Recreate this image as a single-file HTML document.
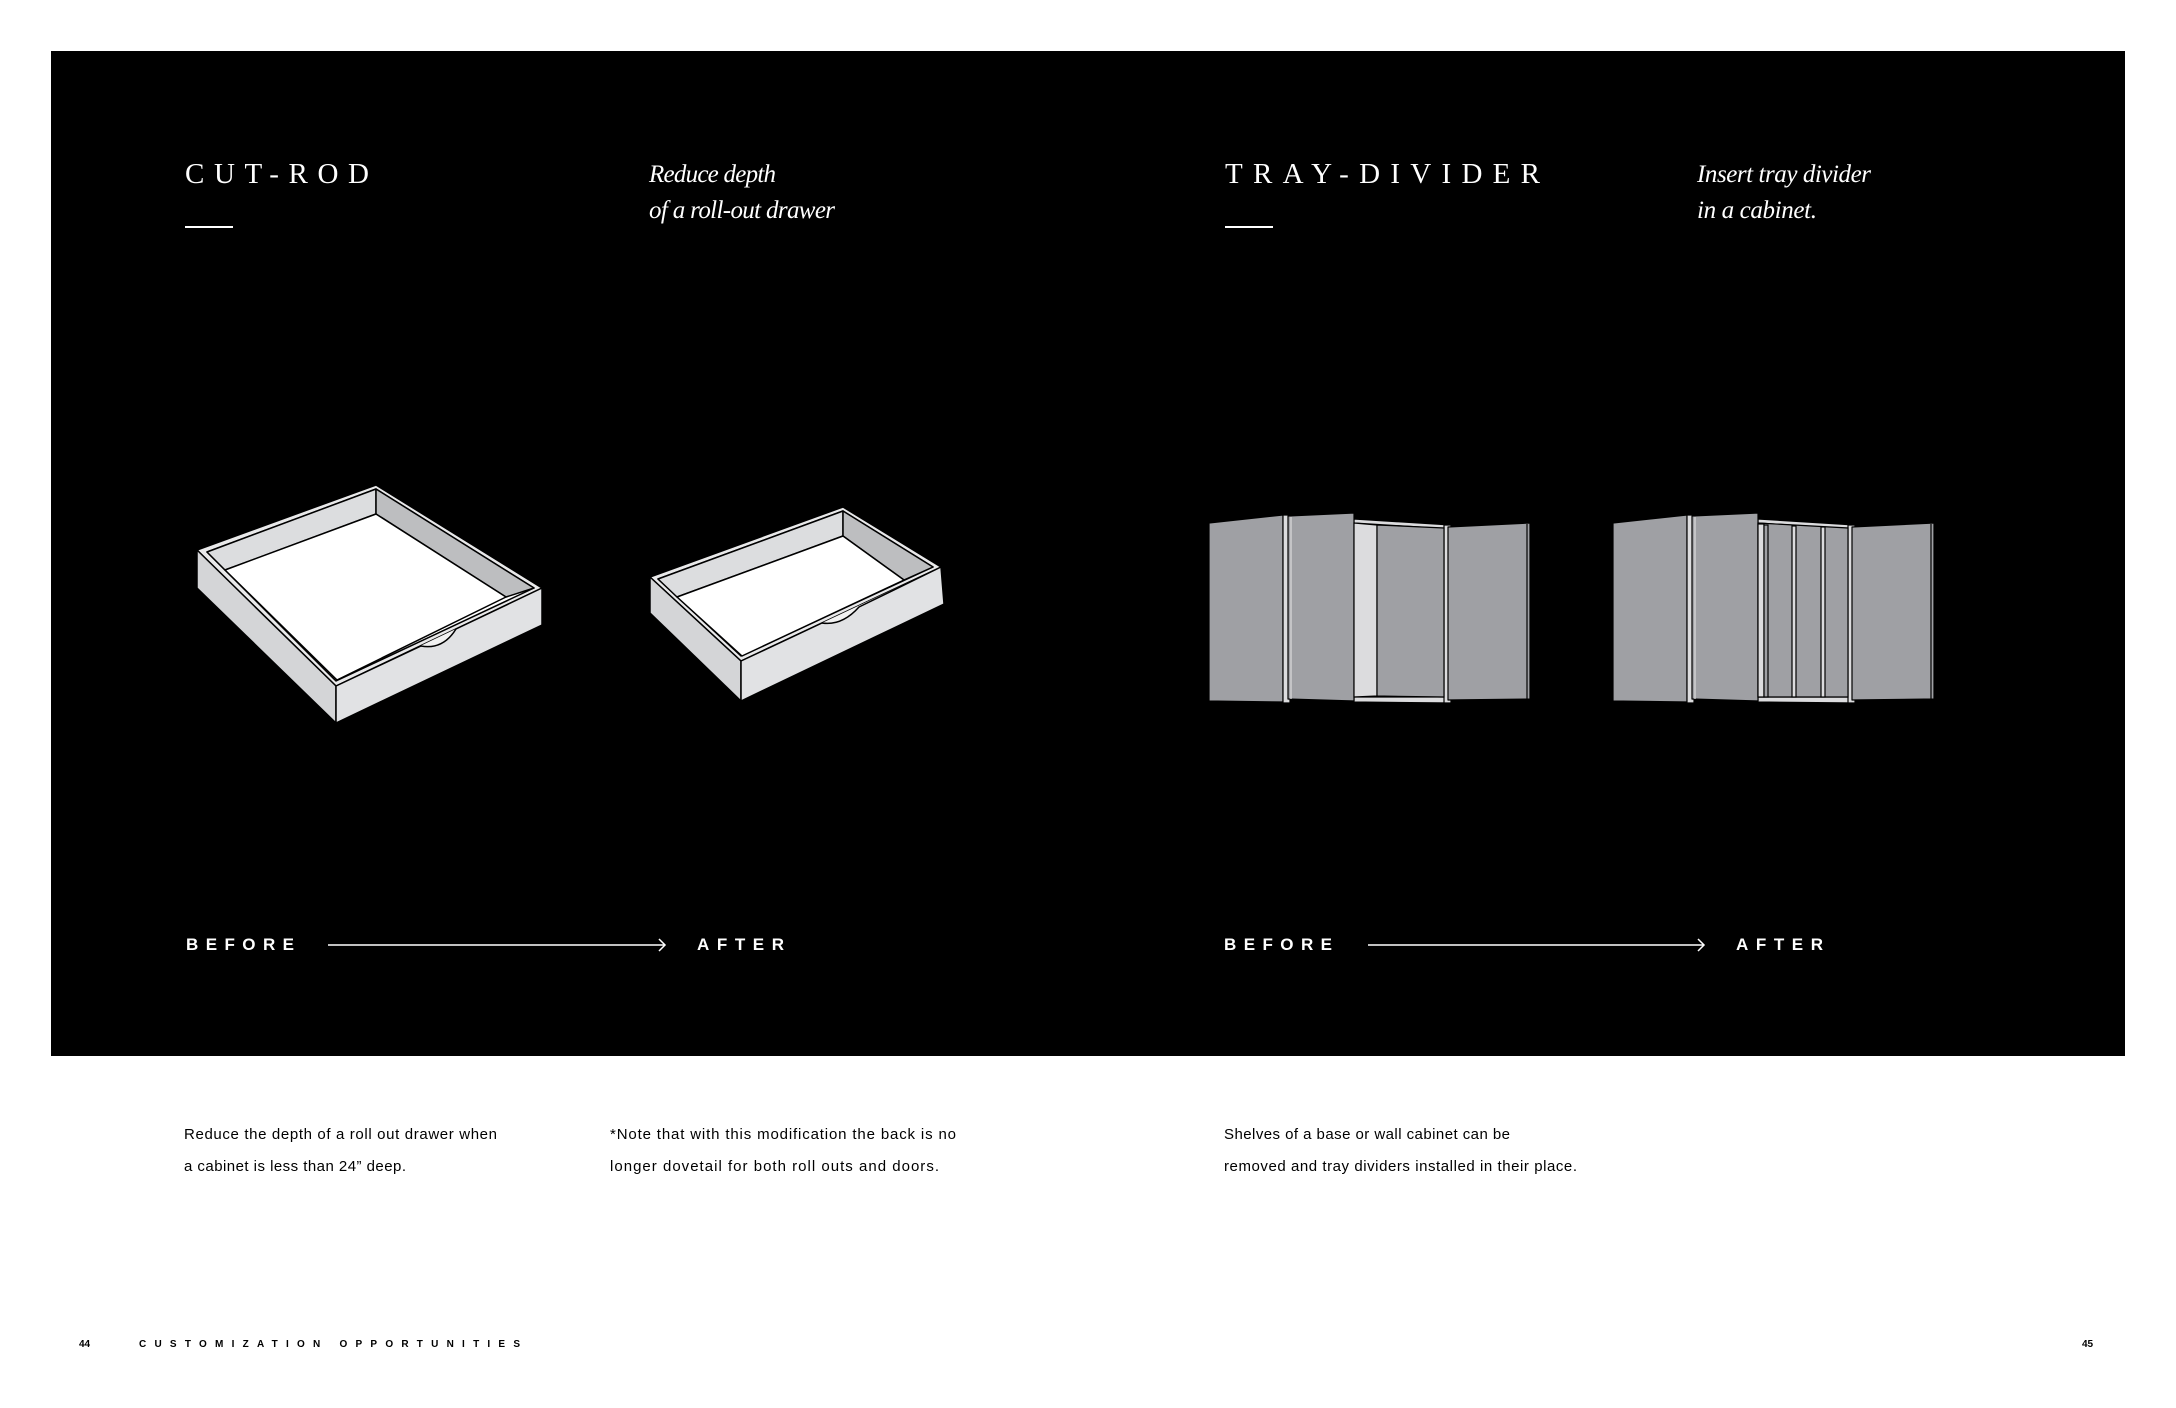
<!DOCTYPE html>
<html><head><meta charset="utf-8"><style>
html,body{margin:0;padding:0;background:#fff;}
svg{display:block;}
.t{font-family:"Liberation Serif",serif;fill:#fff;font-size:29px;}
.i{font-family:"Liberation Serif",serif;font-style:italic;fill:#fff;font-size:25px;}
.s{font-family:"Liberation Sans",sans-serif;fill:#fff;font-size:17px;font-weight:bold;}
.b{font-family:"Liberation Sans",sans-serif;fill:#000;font-size:15px;}
.f{font-family:"Liberation Sans",sans-serif;fill:#000;font-size:10px;font-weight:bold;}
</style></head><body>
<svg width="2176" height="1408" viewBox="0 0 2176 1408" xmlns="http://www.w3.org/2000/svg">
<rect x="51" y="51" width="2074" height="1005" fill="#000"/>

<text class="t" x="185" y="183" textLength="184">CUT-ROD</text>
<rect x="185" y="226" width="48" height="2" fill="#fff"/>
<text class="i" x="649" y="182" textLength="127">Reduce depth</text>
<text class="i" x="649" y="218" textLength="186">of a roll-out drawer</text>

<text class="t" x="1225" y="183" textLength="315">TRAY-DIVIDER</text>
<rect x="1225" y="226" width="48" height="2" fill="#fff"/>
<text class="i" x="1697" y="182" textLength="174">Insert tray divider</text>
<text class="i" x="1697" y="218" textLength="120">in a cabinet.</text>

<text class="s" x="186" y="950" textLength="108">BEFORE</text>
<line x1="328" y1="945" x2="665" y2="945" stroke="#fff" stroke-width="1.5"/>
<polyline points="659,939 665,945 659,951" fill="none" stroke="#fff" stroke-width="1.5"/>
<text class="s" x="697" y="950" textLength="87">AFTER</text>

<text class="s" x="1224" y="950" textLength="108">BEFORE</text>
<line x1="1368" y1="945" x2="1704" y2="945" stroke="#fff" stroke-width="1.5"/>
<polyline points="1698,939 1704,945 1698,951" fill="none" stroke="#fff" stroke-width="1.5"/>
<text class="s" x="1736" y="950" textLength="87">AFTER</text>

<!-- Drawer 1 -->
<g stroke="#000" stroke-width="1.5" stroke-linejoin="round">
<polygon points="197,550 376,485 542,588 336,686" fill="#e9e9ea"/>
<polygon points="207,552 376,489 534,588 336,681" fill="#fff"/>
<polygon points="207,552 376,489 376,514 225,570" fill="#dcdddf"/>
<polygon points="376,489 534,588 506,597 376,514" fill="#bdbec0"/>
<polygon points="225,570 376,514 506,597 337,680" fill="#fff"/>
<polygon points="336,686 542,588 542,602 336,700" fill="#f2f2f2" stroke="none"/>
<polygon points="197,550 336,686 336,723 197,588" fill="#d4d5d7"/>
<path d="M336,686 L421,646 Q443,650 456,629 L542,588 L542,625 L336,723 Z" fill="#e1e2e4"/>
</g>
<!-- Drawer 2 -->
<g stroke="#000" stroke-width="1.5" stroke-linejoin="round">
<polygon points="650,577 843,507 941,567 741,661" fill="#e9e9ea"/>
<polygon points="658,579 843,511 933,567 741,656" fill="#fff"/>
<polygon points="658,579 843,511 843,536 677,597" fill="#dcdddf"/>
<polygon points="843,511 933,567 904,580 843,536" fill="#bdbec0"/>
<polygon points="677,597 843,536 904,580 742,656" fill="#fff"/>
<polygon points="741,661 941,567 941,580 741,674" fill="#f2f2f2" stroke="none"/>
<polygon points="650,577 741,661 741,701 650,613" fill="#d4d5d7"/>
<path d="M741,661 L822,623 Q842,626 859,607 L941,567 L944,604 L741,701 Z" fill="#e1e2e4"/>
</g>

<!-- Cabinet 1 -->
<g id="cab" stroke="#000" stroke-width="1.2" stroke-linejoin="round">
<polygon points="1209,523 1283,515 1283,702 1209,701" fill="#9fa0a4"/>
<rect x="1283" y="515" width="7" height="188" fill="#dcdcde"/>
<polygon points="1354,519 1451,525 1451,529 1354,523" fill="#dcdcde"/>
<polygon points="1354,697 1451,697 1451,703 1354,702" fill="#dcdcde"/>
<rect x="1444" y="525" width="7" height="178" fill="#dcdcde"/>
<polygon points="1288,516 1354,513 1354,701 1288,699" fill="#9fa0a4"/>
<line x1="1291" y1="517" x2="1291" y2="699" stroke="#ddd"/>
<polygon points="1448,527 1530,523 1530,699 1448,700" fill="#9fa0a4"/>
<line x1="1527" y1="524" x2="1527" y2="699"/>
</g>
<g stroke="#000" stroke-width="1.2">
<polygon points="1354,523 1377,525 1377,696 1354,697" fill="#dcdcde"/>
<polygon points="1377,525 1444,528 1444,697 1377,696" fill="#9fa0a4"/>
</g>

<!-- Cabinet 2 -->
<use href="#cab" transform="translate(404,0)"/>
<g stroke="#000" stroke-width="1.2">
<polygon points="1758,523 1848,528 1848,697 1758,697" fill="#9fa0a4"/>
<rect x="1758" y="524" width="6" height="173" fill="#dcdcde"/>
<rect x="1764" y="525" width="4" height="172" fill="#9fa0a4"/>
<rect x="1792" y="526" width="4" height="171" fill="#dcdcde"/>
<rect x="1821" y="527" width="4" height="170" fill="#dcdcde"/>
</g>

<text class="b" x="184" y="1139" textLength="313">Reduce the depth of a roll out drawer when</text>
<text class="b" x="184" y="1171" textLength="222">a cabinet is less than 24” deep.</text>
<text class="b" x="610" y="1139" textLength="346">*Note that with this modification the back is no</text>
<text class="b" x="610" y="1171" textLength="329">longer dovetail for both roll outs and doors.</text>
<text class="b" x="1224" y="1139" textLength="286">Shelves of a base or wall cabinet can be</text>
<text class="b" x="1224" y="1171" textLength="353">removed and tray dividers installed in their place.</text>

<text class="f" x="79" y="1347">44</text>
<text class="f" x="139" y="1347" textLength="381">CUSTOMIZATION  OPPORTUNITIES</text>
<text class="f" x="2082" y="1347">45</text>
</svg>
</body></html>
